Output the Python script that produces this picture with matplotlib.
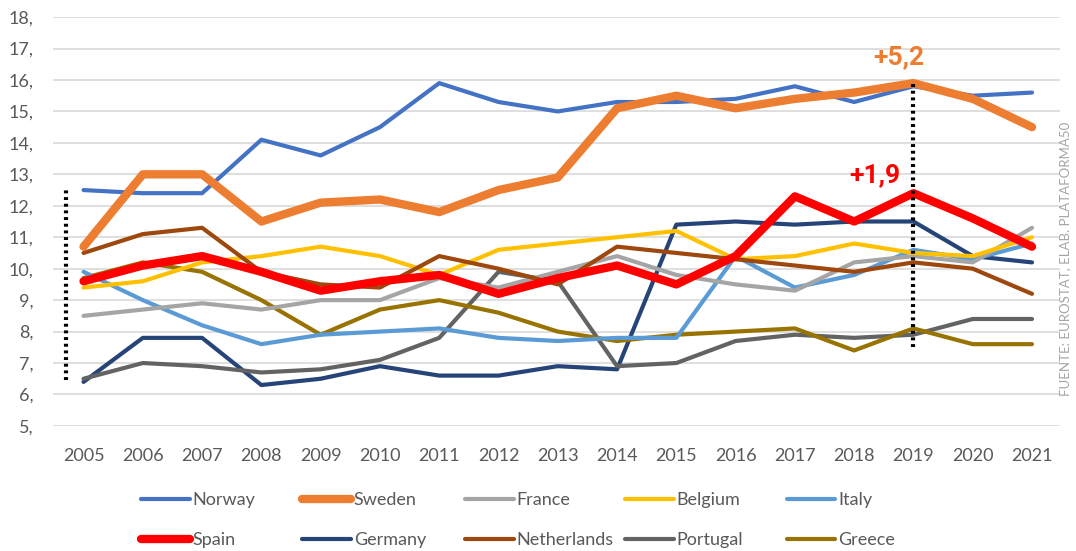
import matplotlib.pyplot as plt
from matplotlib.ticker import FuncFormatter

years = list(range(2005, 2022))

norway = [12.5, 12.4, 12.4, 14.1, 13.6, 14.5, 15.9, 15.3, 15.0, 15.3, 15.3, 15.4, 15.8, 15.3, 15.8, 15.5, 15.6]
sweden = [10.7, 13.0, 13.0, 11.5, 12.1, 12.2, 11.8, 12.5, 12.9, 15.1, 15.5, 15.1, 15.4, 15.6, 15.9, 15.4, 14.5]
france = [8.5, 8.7, 8.9, 8.7, 9.0, 9.0, 9.7, 9.4, 9.9, 10.4, 9.8, 9.5, 9.3, 10.2, 10.4, 10.2, 11.3]
belgium = [9.4, 9.6, 10.2, 10.4, 10.7, 10.4, 9.8, 10.6, 10.8, 11.0, 11.2, 10.3, 10.4, 10.8, 10.5, 10.4, 11.0]
italy = [9.9, 9.0, 8.2, 7.6, 7.9, 8.0, 8.1, 7.8, 7.7, 7.8, 7.8, 10.4, 9.4, 9.8, 10.6, 10.3, 10.8]
spain = [9.6, 10.1, 10.4, 9.9, 9.3, 9.6, 9.8, 9.2, 9.7, 10.1, 9.5, 10.4, 12.3, 11.5, 12.4, 11.6, 10.7]
germany = [6.4, 7.8, 7.8, 6.3, 6.5, 6.9, 6.6, 6.6, 6.9, 6.8, 11.4, 11.5, 11.4, 11.5, 11.5, 10.4, 10.2]
netherlands = [10.5, 11.1, 11.3, 9.9, 9.5, 9.4, 10.4, 10.0, 9.5, 10.7, 10.5, 10.3, 10.1, 9.9, 10.2, 10.0, 9.2]
portugal = [6.5, 7.0, 6.9, 6.7, 6.8, 7.1, 7.8, 9.9, 9.6, 6.9, 7.0, 7.7, 7.9, 7.8, 7.9, 8.4, 8.4]
greece = [9.7, 10.2, 9.9, 9.0, 7.9, 8.7, 9.0, 8.6, 8.0, 7.7, 7.9, 8.0, 8.1, 7.4, 8.1, 7.6, 7.6]

series = [
    ("Norway", norway, "#4472C4", 3.0),
    ("Sweden", sweden, "#ED7D31", 6.0),
    ("France", france, "#A5A5A5", 3.0),
    ("Belgium", belgium, "#FFC000", 3.0),
    ("Italy", italy, "#5B9BD5", 3.0),
    ("Spain", spain, "#FF0000", 6.0),
    ("Germany", germany, "#264478", 3.0),
    ("Netherlands", netherlands, "#9E480E", 3.0),
    ("Portugal", portugal, "#636363", 3.0),
    ("Greece", greece, "#997300", 3.0),
]

# drawing order: thin lines first, thick highlighted ones on top
draw_order = ["Germany", "Portugal", "Greece", "Italy", "France", "Belgium",
              "Netherlands", "Norway", "Sweden", "Spain"]

plt.rcParams['font.family'] = ['Lato', 'DejaVu Sans']

fig = plt.figure(figsize=(10.76, 5.51), dpi=100)
ax = fig.add_axes([0.049, 0.227, 0.936, 0.742])

handles = {}
for name in draw_order:
    label, vals, color, lw = next(s for s in series if s[0] == name)
    h, = ax.plot(years, vals, color=color, lw=lw, label=label,
                 solid_capstyle='round', solid_joinstyle='round', zorder=3)
    handles[label] = h

# dotted reference lines
ax.plot([2004.71, 2004.71], [6.45, 12.55], color='black', lw=3, ls=(0, (0.7, 0.9)), zorder=4)
ax.plot([2019, 2019], [7.5, 15.9], color='black', lw=3, ls=(0, (0.7, 0.9)), zorder=4)

ax.text(2018.75, 16.72, "+5,2", color="#ED7D31", fontsize=19, fontweight='bold',
        family=['Roboto', 'DejaVu Sans'], ha='center', va='center')
ax.text(2018.35, 12.98, "+1,9", color="#FF0000", fontsize=19, fontweight='bold',
        family=['Roboto', 'DejaVu Sans'], ha='center', va='center')

ax.set_xlim(2004.48, 2021.47)
ax.set_ylim(5, 18)
ax.set_yticks(range(5, 19))
ax.set_xticks(years)
ax.yaxis.set_major_formatter(FuncFormatter(lambda v, p: f"{int(v)},"))
ax.grid(axis='y', color='#D9D9D9', lw=1.2)
ax.set_axisbelow(True)
for sp in ax.spines.values():
    sp.set_visible(False)
ax.tick_params(length=0, labelsize=13, colors='#595959')
ax.tick_params(axis='x', pad=16)
ax.tick_params(axis='y', pad=14)

fig.text(0.99, 0.53, "FUENTE: EUROSTAT, ELAB. PLATAFORMA50", rotation=90,
         color='#A6A6A6', fontsize=9.5, ha='center', va='center')

# legend: fixed-width slots, two rows of five
leg_cols = [0.131, 0.281, 0.432, 0.581, 0.731]
leg_rows = [0.0926, 0.020]
for i, (label, vals, color, lw) in enumerate(series):
    r, c = divmod(i, 5)
    leg = fig.legend([handles[label]], [label], loc='center left',
                     bbox_to_anchor=(leg_cols[c], leg_rows[r]), frameon=False,
                     fontsize=13, handlelength=2.7, handletextpad=0.15,
                     borderpad=0, borderaxespad=0)
    for t in leg.get_texts():
        t.set_color('#595959')

fig.savefig("out.png", dpi=100)
